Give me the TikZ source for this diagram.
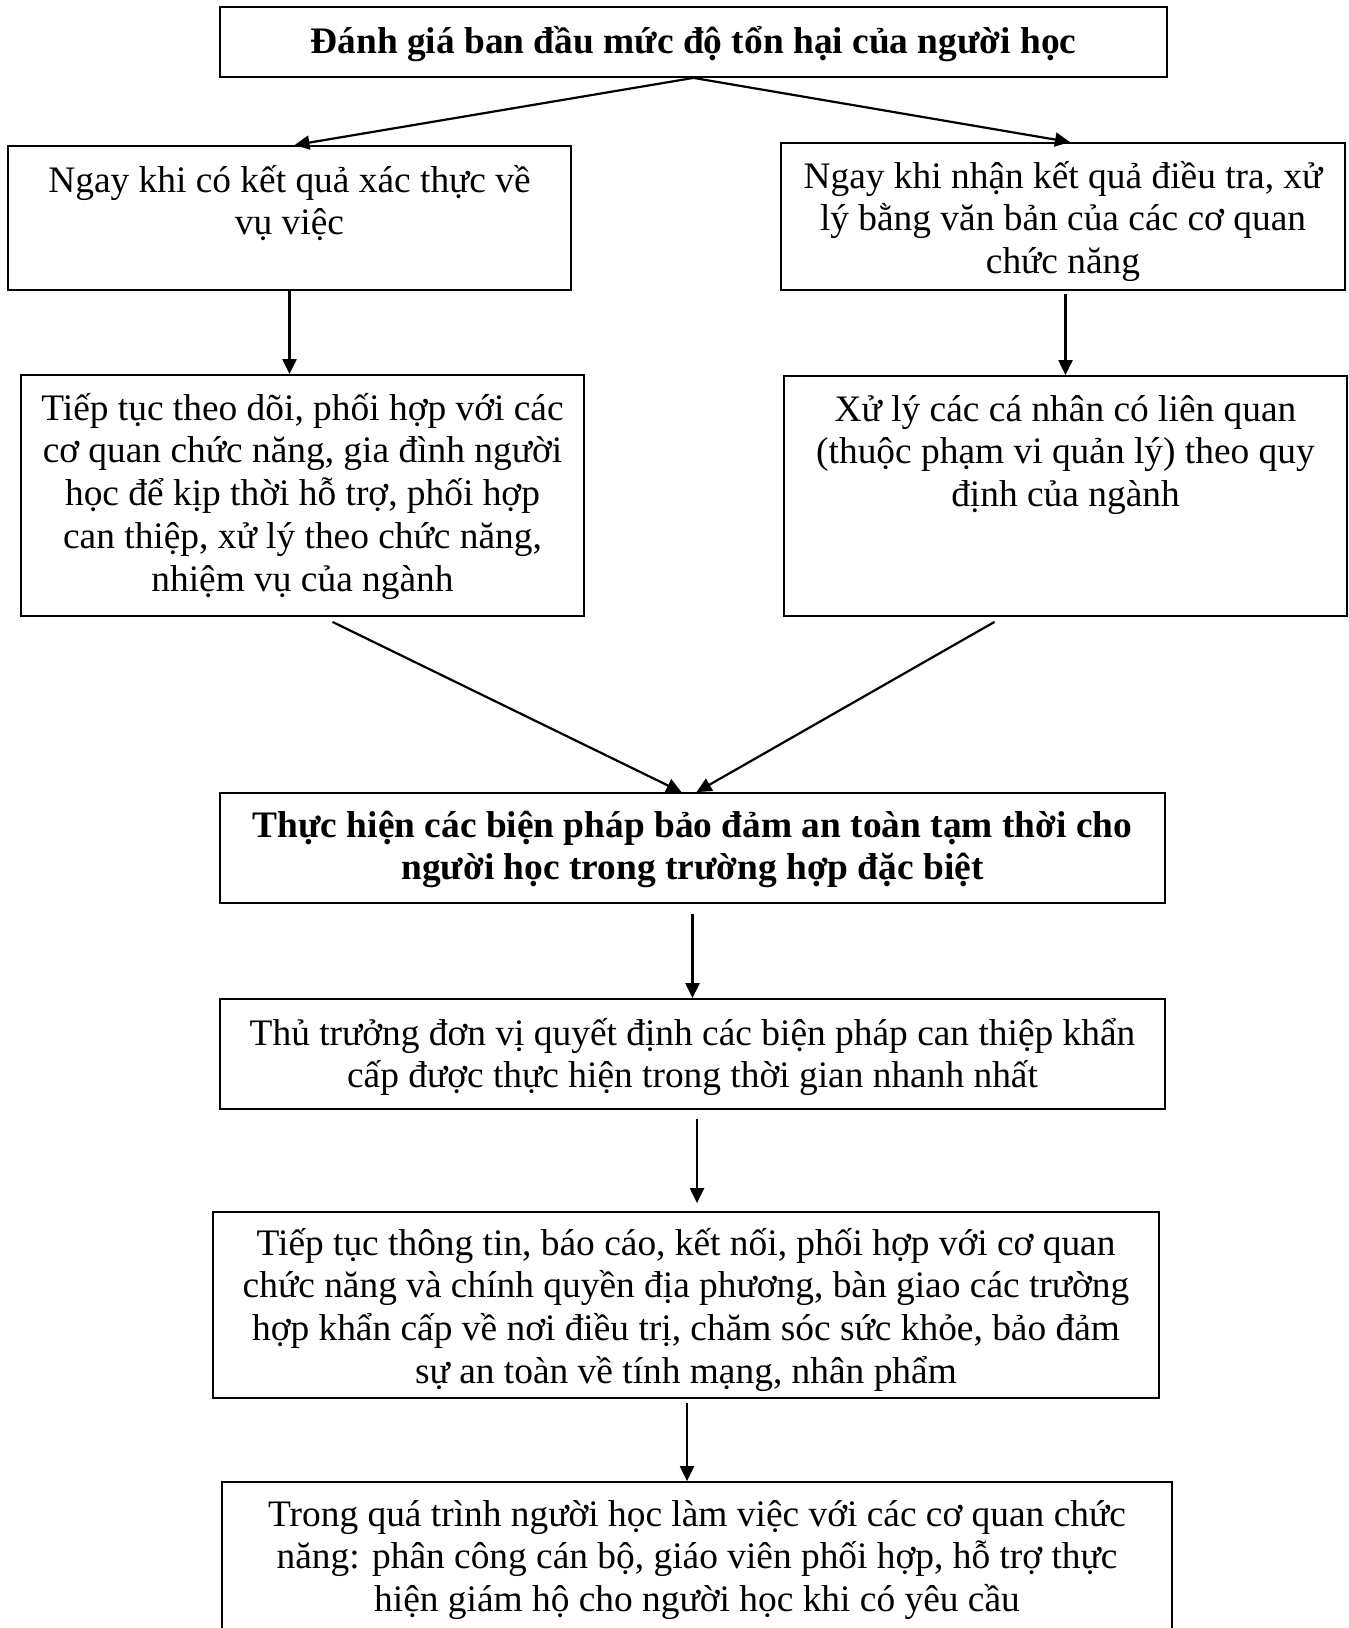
\documentclass[tikz,border=0pt]{standalone}
\usepackage{fontspec}
\setmainfont{Liberation Serif}
\usetikzlibrary{arrows.meta,calc}
\newcommand\bxt[4]{\parbox[c][#2][t]{#1}{\centering\fontsize{18.7pt}{21.4pt}\selectfont\lineskiplimit=-30pt\relax\leavevmode\rule{0pt}{#3}#4}}
\begin{document}
\begin{tikzpicture}[x=0.5pt,y=-0.5pt,
  box/.style={draw, line width=0.9pt, inner sep=0pt},
  arr/.style={-{Triangle[length=7.5pt,width=7pt]}, line width=1.1pt}]
\useasboundingbox (0,0) rectangle (1349,1628);
\clip (0,0) rectangle (1349,1628);
\node[box] (b1) at (693.5,42) {\bxt{473.5pt}{35pt}{23pt}{\bfseries Đánh giá ban đầu mức độ tổn hại của người học}};
\node[box] (b2) at (289.5,218) {\bxt{281.5pt}{72pt}{23pt}{Ngay khi có kết quả xác thực về\\vụ việc}};
\node[box] (b3) at (1063,216.5) {\bxt{282pt}{73.5pt}{22.5pt}{Ngay khi nhận kết quả điều tra, xử\\lý bằng văn bản của các cơ quan\\chức năng}};
\node[box] (b4) at (302.5,495.5) {\bxt{281.5pt}{120.5pt}{22.5pt}{Tiếp tục theo dõi, phối hợp với các\\cơ quan chức năng, gia đình người\\học để kịp thời hỗ trợ, phối hợp\\can thiệp, xử lý theo chức năng,\\nhiệm vụ của ngành}};
\node[box] (b5) at (1065.5,496) {\bxt{281.5pt}{120pt}{22.5pt}{Xử lý các cá nhân có liên quan\\(thuộc phạm vi quản lý) theo quy\\định của ngành}};
\node[box] (b6) at (692.5,848) {\bxt{472.5pt}{55pt}{22pt}{\bfseries Thực hiện các biện pháp bảo đảm an toàn tạm thời cho\\người học trong trường hợp đặc biệt}};
\node[box] (b7) at (692.5,1054) {\bxt{472.5pt}{55pt}{23pt}{Thủ trưởng đơn vị quyết định các biện pháp can thiệp khẩn\\cấp được thực hiện trong thời gian nhanh nhất}};
\node[box] (b8) at (686,1305) {\bxt{473pt}{93pt}{21.5pt}{Tiếp tục thông tin, báo cáo, kết nối, phối hợp với cơ quan\\chức năng và chính quyền địa phương, bàn giao các trường\\hợp khẩn cấp về nơi điều trị, chăm sóc sức khỏe, bảo đảm\\sự an toàn về tính mạng, nhân phẩm}};
\node[box] (b9) at (697,1571) {\bxt{475pt}{89pt}{22pt}{Trong quá trình người học làm việc với các cơ quan chức\\năng: phân công cán bộ, giáo viên phối hợp, hỗ trợ thực\\hiện giám hộ cho người học khi có yêu cầu}};
\draw[arr] (b1.south) -- ($(b2.north)+(5,0)$);
\draw[arr] (b1.south) -- ($(b3.north)+(7,0)$);
\draw[arr] (b2.south) -- (b2.south |- b4.north);
\draw[arr] ($(b5.north |- b3.south)+(0,3)$) -- (b5.north);
\draw[arr] ($(b4.south)+(30,5)$) -- ($(b6.north)+(-11,0)$);
\draw[arr] ($(b5.south)+(-71,5)$) -- ($(b6.north)+(4,0)$);
\draw[arr] ($(b6.south)+(0,10)$) -- (b7.north);
\draw[arr] ($(b7.south)+(4.5,9)$) -- ($(b7.south |- b8.north)+(4.5,-8)$);
\draw[arr] ($(b8.south)+(1,4)$) -- ($(b8.south |- b9.north)+(1,0)$);
\end{tikzpicture}
\end{document}
